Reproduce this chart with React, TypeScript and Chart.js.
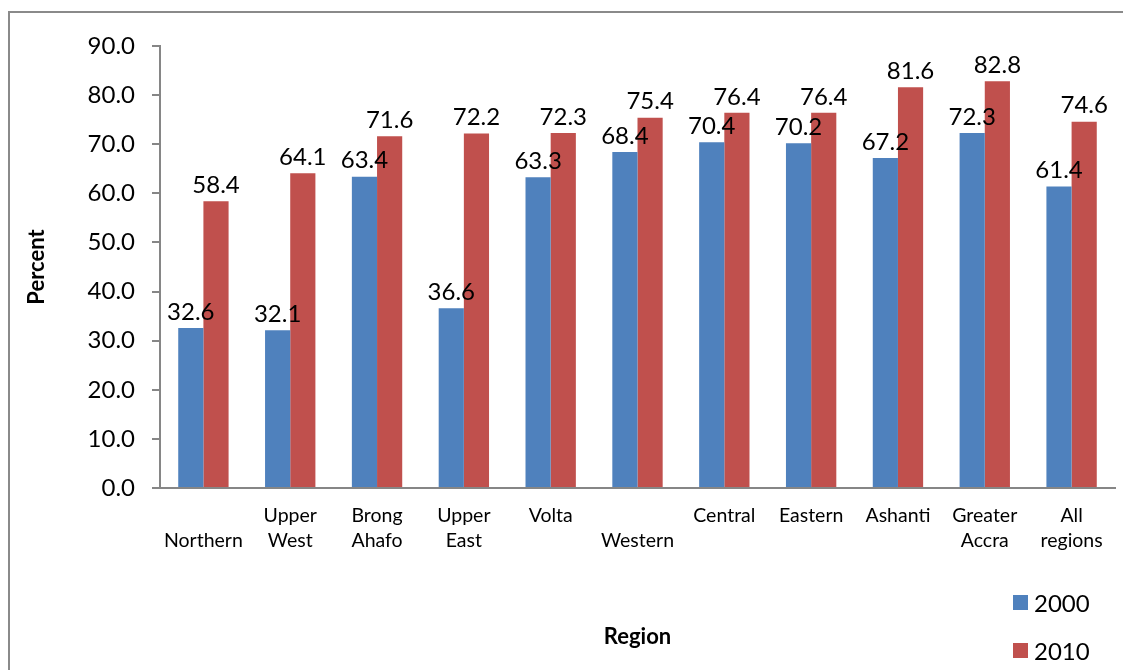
import React, { useEffect, useRef } from "react";
import { Chart, registerables } from "chart.js";

Chart.register(...registerables);

const categories: (string | string[])[] = [
  ["", "Northern"],
  ["Upper", "West"],
  ["Brong", "Ahafo"],
  ["Upper", "East"],
  ["Volta"],
  ["", "Western"],
  ["Central"],
  ["Eastern"],
  ["Ashanti"],
  ["Greater", "Accra"],
  ["All", "regions"],
];
const values2000 = [32.6, 32.1, 63.4, 36.6, 63.3, 68.4, 70.4, 70.2, 67.2, 72.3, 61.4];
const values2010 = [58.4, 64.1, 71.6, 72.2, 72.3, 75.4, 76.4, 76.4, 81.6, 82.8, 74.6];
const seriesNames = ["2000", "2010"];
const colors = ["#4F81BD", "#C0504D"];

const FONT = "Lato, 'Open Sans', sans-serif";

const valueLabels = {
  id: "valueLabels",
  afterDatasetsDraw(chart: any) {
    const ctx = chart.ctx;
    ctx.save();
    ctx.font = `24px ${FONT}`;
    ctx.fillStyle = "#000";
    ctx.textAlign = "center";
    ctx.textBaseline = "bottom";
    chart.data.datasets.forEach((ds: any, di: number) => {
      const meta = chart.getDatasetMeta(di);
      meta.data.forEach((el: any, i: number) => {
        const v = ds.data[i];
        ctx.fillText(v.toFixed(1), el.x, el.y - 4);
      });
    });
    ctx.restore();
  },
};

export default function App() {
  const ref = useRef<HTMLCanvasElement>(null);
  useEffect(() => {
    if (!ref.current) return;
    const chart = new Chart(ref.current, {
      type: "bar",
      data: {
        labels: categories,
        datasets: [
          { label: seriesNames[0], data: values2000, backgroundColor: colors[0], categoryPercentage: 0.58, barPercentage: 1 },
          { label: seriesNames[1], data: values2010, backgroundColor: colors[1], categoryPercentage: 0.58, barPercentage: 1 },
        ],
      },
      options: {
        animation: false,
        responsive: false,
        layout: { padding: { left: 0, right: 8, top: 46, bottom: 0 } },
        plugins: {
          legend: { display: false },
          tooltip: { enabled: false },
        },
        scales: {
          x: {
            grid: { display: false, drawTicks: false },
            border: { display: true, color: "#868686", width: 2 },
            ticks: {
              color: "#000",
              font: { family: FONT, size: 19.5, lineHeight: 1.28 },
              padding: 15,
              maxRotation: 0,
              autoSkip: false,
            },
            title: {
              display: true,
              text: "Region",
              color: "#000",
              font: { family: FONT, size: 22, weight: "bold" },
              padding: { top: 0, bottom: 20 },
            },
            afterFit(scale: any) {
              scale.height = 182;
            },
          },
          y: {
            min: 0,
            max: 90,
            ticks: {
              stepSize: 10,
              color: "#000",
              font: { family: FONT, size: 24 },
              padding: 17,
              callback: (v: any) => Number(v).toFixed(1),
            },
            grid: { drawOnChartArea: false, drawTicks: true, tickLength: 8, color: "#868686", lineWidth: 2 },
            border: { display: true, color: "#868686", width: 2 },
            title: {
              display: true,
              text: "Percent",
              color: "#000",
              font: { family: FONT, size: 22, weight: "bold" },
              padding: { top: 24, bottom: 0 },
            },
            afterFit(scale: any) {
              scale.width = 160;
            },
          },
        },
      },
      plugins: [valueLabels],
    });
    return () => chart.destroy();
  }, []);

  const legendItem = (i: number, top: number) => (
    <div key={i} style={{ position: "absolute", left: 1013, top, display: "flex", alignItems: "center", fontFamily: FONT, fontSize: 24, color: "#000" }}>
      <span style={{ display: "inline-block", width: 15, height: 15, background: colors[i], marginRight: 6 }} />
      <span>{seriesNames[i]}</span>
    </div>
  );

  return (
    <div style={{ position: "absolute", left: 0, top: 0, width: 1123, height: 670, overflow: "hidden", background: "#fff" }}>
      <div style={{ position: "absolute", left: 8, top: 11, width: 1200, height: 800, borderLeft: "2px solid #8a8a8a", borderTop: "2px solid #8a8a8a" }} />
      <canvas ref={ref} width={1123} height={670} style={{ position: "absolute", left: 0, top: 0, width: 1123, height: 670 }} />
      {legendItem(0, 588)}
      {legendItem(1, 636)}
    </div>
  );
}
